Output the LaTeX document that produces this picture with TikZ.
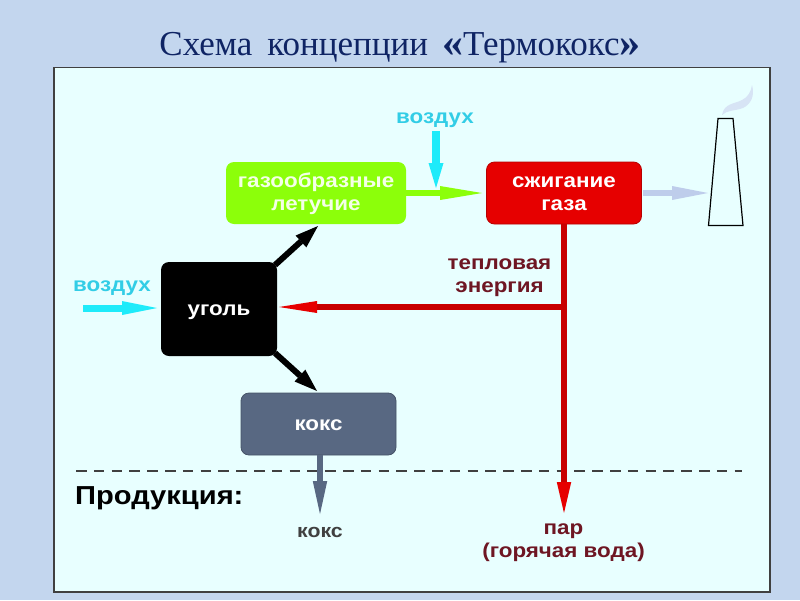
\documentclass[tikz,border=0pt]{standalone}
\usepackage{fontspec}
\setmainfont{Liberation Serif}
\newfontfamily\lab[FakeStretch=1.12]{Liberation Sans}
\usetikzlibrary{arrows.meta}
\definecolor{slidebg}{RGB}{195,214,238}
\definecolor{panel}{RGB}{232,255,255}
\definecolor{titleblue}{RGB}{15,36,100}
\definecolor{cgreen}{RGB}{140,255,10}
\definecolor{cred}{RGB}{230,0,0}
\definecolor{cslate}{RGB}{88,104,130}
\definecolor{ccyan}{RGB}{30,235,250}
\definecolor{ccyantext}{RGB}{50,205,230}
\definecolor{cdarkred}{RGB}{110,22,35}
\definecolor{csmoke}{RGB}{190,205,235}
\definecolor{clightsmoke}{RGB}{215,228,245}
\definecolor{carrowred}{RGB}{200,0,0}
\newcommand\lowtext[1]{\raisebox{-1.5pt}[\height][\depth]{\begin{tabular}{@{}c@{}}#1\end{tabular}}}
\newcommand\guil[1]{\raisebox{-1.5pt}{\fontsize{42}{42}\selectfont\bfseries #1}}
\tikzset{
  x=1pt,y=-1pt,
  box/.style={rounded corners=8pt,minimum height=62pt,inner sep=0pt,text=white,font=\lab\fontsize{20}{23}\selectfont\bfseries},
  lbl/.style={inner sep=0pt,align=center,font=\lab\fontsize{20}{23}\selectfont\bfseries},
  head/.style n args={3}{-{Triangle[length=#1,width=#2,line width=0pt,fill=#3]}},
}
\begin{document}
\begin{tikzpicture}
\useasboundingbox (0,0) rectangle (800,600);
\fill[slidebg] (0,0) rectangle (800,600);
\node[anchor=base,inner sep=0pt,text=titleblue,font=\fontsize{35}{38}\selectfont] (title) at (400,55) {Схема\hspace{15pt}концепции\hspace{14pt}\guil{«}Термококс\guil{»}};
\draw[fill=panel,draw=black!75,line width=1.2pt] (54,67.5) rectangle (770,592);
% boxes
\node[box,fill=cgreen,text=white!90!cgreen,minimum width=180pt] (gas) at (316,193) {\lowtext{газообразные\\летучие}};
\node[box,fill=cred,draw=cred!80!black,line width=.8pt,minimum width=155pt] (burn) at (564,193) {\lowtext{сжигание\\газа}};
\node[box,fill=black,minimum width=116pt,minimum height=94pt] (coal) at (219,309) {\lowtext{уголь}};
\node[box,fill=cslate,draw=cslate!80!black,line width=.8pt,minimum width=155pt] (coke) at (318.5,424) {\lowtext{кокс}};
% chimney
\draw[line width=1.2pt,draw=black,fill=panel,line join=miter] (718,118.5) -- (733,118.5) -- (743,225.5) -- (708.5,225.5) -- cycle;
\fill[clightsmoke] (722,115) .. controls (724,103) and (735,104) .. (742,100) .. controls (748,97) and (751,92) .. (752,85) .. controls (755,96) and (751,104) .. (743,108) .. controls (735,111) and (727,110) .. cycle;
\coordinate (chimL) at (708,193);
\coordinate (airtopS) at (436,131);
\coordinate (airtopE) at (436,188);
\coordinate (airleftS) at (83,308);
\coordinate (airleftE) at (157,308);
\coordinate (junc) at (564,307);
\coordinate (coalIn) at (279,307);
\coordinate (steamEnd) at (564,513);
\coordinate (cokeEnd) at (320,514);
\coordinate (cokeTop) at (320,455);
\coordinate (gasIn) at (482,193);
\coordinate (coalUpS) at (275,265);
\coordinate (coalUpE) at (318,226);
\coordinate (coalDnS) at (275,353);
\coordinate (coalDnE) at (317,391);
\coordinate (dashL) at (76,471);
\coordinate (dashR) at (742,471);
\coordinate (burnOut) at (643,193);
% dashed
\draw[dash pattern=on 10.5pt off 7.3pt,line width=1.2pt,draw=black!75] (dashL) -- (dashR);
% connectors
\draw[draw=cgreen,line width=6pt,head={42pt}{14pt}{cgreen}] (gas.east) -- (gasIn);
\draw[draw=ccyan,line width=8pt,head={25pt}{15pt}{ccyan}] (airtopS) -- (airtopE);
\draw[draw=csmoke,line width=6pt,head={36pt}{14pt}{csmoke}] (burnOut) -- (chimL);
\draw[draw=ccyan,line width=7pt,head={35pt}{14pt}{ccyan}] (airleftS) -- (airleftE);
\draw[draw=black,line width=6pt,head={23pt}{16pt}{black}] (coalUpS) -- (coalUpE);
\draw[draw=black,line width=6pt,head={23pt}{16pt}{black}] (coalDnS) -- (coalDnE);
\draw[draw=carrowred,line width=5.5pt,head={38pt}{12pt}{cred}] (junc) -- (coalIn);
\draw[draw=carrowred,line width=5.5pt,head={31pt}{14.5pt}{cred}] (burn.south) -- (steamEnd);
\draw[draw=cslate,line width=5.5pt,head={33pt}{14.5pt}{cslate}] (cokeTop) -- (cokeEnd);
% labels
\node[lbl,text=ccyantext] (airT) at (435,120) {воздух};
\node[lbl,text=ccyantext] (airL) at (112,288) {воздух};
\node[lbl,text=cdarkred] (heat) at (499.5,278) {тепловая\\энергия};
\node[lbl,anchor=base west,text=black,font=\lab\fontsize{26}{30}\selectfont\bfseries] (prod) at (75,504) {Продукция:};
\node[lbl,text=black!75,font=\lab\fontsize{19}{23}\selectfont\bfseries] (cokeOut) at (320,532) {кокс};
\node[lbl,text=cdarkred] (steam) at (563.5,543) {пар\\(горячая вода)};
\end{tikzpicture}
\end{document}
